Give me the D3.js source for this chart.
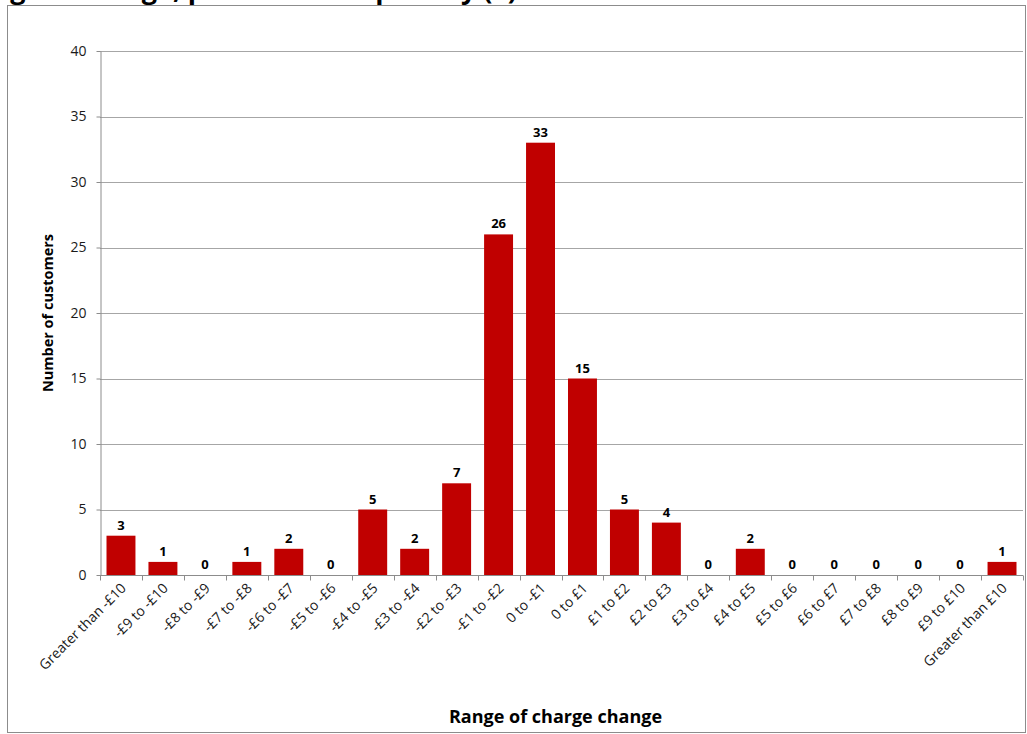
<!DOCTYPE html>
<html>
<head>
<meta charset="utf-8">
<script src="https://cdn.jsdelivr.net/npm/d3@7"></script>
<style>
  html, body { margin: 0; padding: 0; background: #fff; }
  svg { display: block; }
  text { font-family: "Open Sans", Lato, "Liberation Sans", sans-serif; }
</style>
</head>
<body>
<svg id="chart" width="1027" height="734"></svg>
<script>
// Ranges of charge change and number of customers in each
const categories = [
  "Greater than -£10", "-£9 to -£10", "-£8 to -£9", "-£7 to -£8", "-£6 to -£7",
  "-£5 to -£6", "-£4 to -£5", "-£3 to -£4", "-£2 to -£3", "-£1 to -£2",
  "0 to -£1", "0 to £1", "£1 to £2", "£2 to £3", "£3 to £4", "£4 to £5",
  "£5 to £6", "£6 to £7", "£7 to £8", "£8 to £9", "£9 to £10", "Greater than £10"
];
const customers = [3, 1, 0, 1, 2, 0, 5, 2, 7, 26, 33, 15, 5, 4, 0, 2, 0, 0, 0, 0, 0, 1];
const yTicks = [0, 5, 10, 15, 20, 25, 30, 35, 40];

const titleText = "Change in charge, per customer per day (£)";
const xTitle = "Range of charge change";
const yTitle = "Number of customers";

const svg = d3.select("#chart");
const plot = { left: 100, right: 1023, top: 51, bottom: 575 };

// Outer chart frame
svg.append("rect")
  .attr("x", 7.5).attr("y", 5.5)
  .attr("width", 1018).attr("height", 727)
  .attr("fill", "#fff").attr("stroke", "#8c8c8c").attr("stroke-width", 1);

// Title sits above the frame, running off the top of the page
svg.append("text")
  .attr("x", 517).attr("y", -1)
  .attr("text-anchor", "end")
  .attr("font-weight", "bold").attr("font-size", 27)
  .attr("fill", "#000")
  .text(titleText);

const x = d3.scaleBand()
  .domain(categories)
  .range([plot.left, plot.right])
  .paddingInner(0.31).paddingOuter(0.155);

const xb = d3.scaleBand().domain(categories).range([plot.left, plot.right]);

const y = d3.scaleLinear().domain([0, 40]).range([plot.bottom, plot.top]);

// Horizontal gridlines
svg.append("g")
  .selectAll("line")
  .data(yTicks.filter(d => d > 0))
  .join("line")
  .attr("x1", plot.left).attr("x2", plot.right)
  .attr("y1", d => Math.round(y(d)) + 0.5).attr("y2", d => Math.round(y(d)) + 0.5)
  .attr("stroke", "#a6a6a6").attr("stroke-width", 1);

// Y axis
const yAxis = svg.append("g")
  .attr("transform", `translate(${plot.left + 0.5},0)`)
  .call(d3.axisLeft(y).tickValues(yTicks).tickSize(4).tickPadding(10).tickSizeOuter(0));
yAxis.select(".domain").attr("stroke", "#8c8c8c");
yAxis.selectAll(".tick line").attr("stroke", "#8c8c8c");
yAxis.selectAll(".tick text")
  .attr("font-size", 14).attr("fill", "#1a1a1a")
  .style("font-family", "'Open Sans', sans-serif");

// Bars
svg.append("g")
  .selectAll("rect")
  .data(categories.map((c, i) => ({ c, v: customers[i] })))
  .join("rect")
  .attr("x", d => x(d.c))
  .attr("width", x.bandwidth())
  .attr("y", d => y(d.v))
  .attr("height", d => y(0) - y(d.v))
  .attr("fill", "#c00000");

// Value labels
svg.append("g")
  .selectAll("text")
  .data(categories.map((c, i) => ({ c, v: customers[i] })))
  .join("text")
  .attr("x", d => x(d.c) + x.bandwidth() / 2)
  .attr("y", d => y(d.v) - 6)
  .attr("text-anchor", "middle")
  .attr("font-size", 13).attr("font-weight", "bold").attr("fill", "#000")
  .text(d => d.v);

// X axis with ticks on band boundaries
const xAxisG = svg.append("g").attr("transform", `translate(0,${plot.bottom + 0.5})`);
xAxisG.append("line")
  .attr("x1", plot.left).attr("x2", plot.right)
  .attr("stroke", "#8c8c8c");
const bounds = categories.map(c => xb(c)).concat([plot.right]);
xAxisG.selectAll("line.tk")
  .data(bounds)
  .join("line").attr("class", "tk")
  .attr("x1", d => Math.round(d) + 0.5).attr("x2", d => Math.round(d) + 0.5)
  .attr("y1", 0).attr("y2", 5)
  .attr("stroke", "#8c8c8c");

// Rotated category labels
svg.append("g")
  .selectAll("text")
  .data(categories)
  .join("text")
  .attr("transform", d => `translate(${xb(d) + xb.bandwidth() / 2 + 6},${plot.bottom + 14}) rotate(-45)`)
  .attr("text-anchor", "end")
  .attr("font-size", 14).attr("fill", "#1a1a1a")
  .text(d => d);

// Axis titles
svg.append("text")
  .attr("x", (plot.left + plot.right) / 2 - 6).attr("y", 723)
  .attr("text-anchor", "middle")
  .attr("font-size", 18).attr("font-weight", "bold").attr("fill", "#000")
  .text(xTitle);

svg.append("text")
  .attr("transform", `translate(53,${(plot.top + plot.bottom) / 2}) rotate(-90)`)
  .attr("text-anchor", "middle")
  .attr("font-size", 14.5).attr("font-weight", "bold").attr("fill", "#000")
  .text(yTitle);
</script>
</body>
</html>
